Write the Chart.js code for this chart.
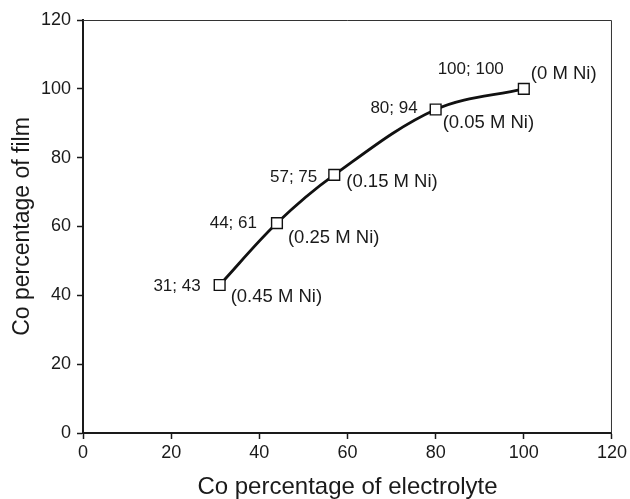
<!DOCTYPE html>
<html>
<head>
<meta charset="utf-8">
<script src="https://cdn.jsdelivr.net/npm/chart.js@4/dist/chart.umd.min.js"></script>
<style>
  html, body { margin: 0; padding: 0; background: #fff; }
  #box { width: 630px; height: 499px; }
</style>
</head>
<body>
<div id="box"><canvas id="myChart"></canvas></div>
<script>
// data
var electrolyteCo = [31, 44, 57, 80, 100];
var filmCo = [43, 61, 75, 94, 100];
var pointLabels = ["31; 43", "44; 61", "57; 75", "80; 94", "100; 100"];
var nickelLabels = ["(0.45 M Ni)", "(0.25 M Ni)", "(0.15 M Ni)", "(0.05 M Ni)", "(0 M Ni)"];
var tickValues = [0, 20, 40, 60, 80, 100, 120];

// where each label sits relative to its marker (pixels)
var coordOffsets = [[-19, 1], [-20, 0], [-17, 2], [-18, -1], [-20, -20]];
var nickelOffsets = [[11, 12], [11, 15], [12, 7], [7, 13], [7, -15]];

var ink = "#1a1a1a";
var fontFamily = "'Liberation Sans', Arial, Helvetica, sans-serif";

var points = electrolyteCo.map(function (x, i) {
  return { x: x, y: filmCo[i] };
});

// thin frame on top and right, like the original box
var framePlugin = {
  id: "frame",
  beforeDatasetsDraw: function (chart) {
    var a = chart.chartArea;
    var ctx = chart.ctx;
    ctx.save();
    ctx.strokeStyle = "#333";
    ctx.lineWidth = 1;
    ctx.beginPath();
    ctx.moveTo(a.left, a.top + 0.5);
    ctx.lineTo(a.right - 0.5, a.top + 0.5);
    ctx.lineTo(a.right - 0.5, a.bottom);
    ctx.stroke();
    ctx.restore();
  },
};

var labelPlugin = {
  id: "pointText",
  afterDatasetsDraw: function (chart) {
    var ctx = chart.ctx;
    var xs = chart.scales.x;
    var ys = chart.scales.y;
    ctx.save();
    ctx.fillStyle = ink;
    ctx.textBaseline = "middle";
    for (var i = 0; i < points.length; i++) {
      var px = xs.getPixelForValue(points[i].x);
      var py = ys.getPixelForValue(points[i].y);
      ctx.font = "17px " + fontFamily;
      ctx.textAlign = "right";
      ctx.fillText(pointLabels[i], px + coordOffsets[i][0], py + coordOffsets[i][1]);
      ctx.font = "18.5px " + fontFamily;
      ctx.textAlign = "left";
      ctx.fillText(nickelLabels[i], px + nickelOffsets[i][0], py + nickelOffsets[i][1]);
    }
    ctx.restore();
  },
};

function axisTicks(scale) {
  scale.ticks = tickValues.map(function (v) {
    return { value: v };
  });
}

var ctx = document.getElementById("myChart").getContext("2d");
var myChart = new Chart(ctx, {
  type: "scatter",
  data: {
    datasets: [
      {
        data: points,
        showLine: true,
        borderColor: "#111",
        borderWidth: 2.8,
        tension: 0.35,
        pointStyle: "rect",
        pointRadius: 7.6,
        pointBorderWidth: 1.4,
        pointBorderColor: "#111",
        pointBackgroundColor: "#fff",
      },
    ],
  },
  options: {
    responsive: true,
    maintainAspectRatio: false,
    animation: false,
    layout: { padding: { top: 20, right: 17, left: 0, bottom: 0 } },
    plugins: {
      legend: { display: false },
      tooltip: { enabled: false },
    },
    scales: {
      x: {
        type: "linear",
        min: 0,
        max: 120,
        afterBuildTicks: axisTicks,
        afterFit: function (scale) {
          scale.height = 66;
        },
        grid: {
          drawOnChartArea: false,
          drawTicks: true,
          tickLength: 6,
          tickWidth: 1.5,
          tickColor: ink,
        },
        border: { color: ink, width: 2 },
        ticks: {
          color: ink,
          padding: 3,
          maxRotation: 0,
          font: { family: fontFamily, size: 18 },
        },
        title: {
          display: true,
          text: "Co percentage of electrolyte",
          color: ink,
          padding: 0,
          font: { family: fontFamily, size: 24, lineHeight: 1 },
        },
      },
      y: {
        type: "linear",
        min: 0,
        max: 120,
        afterBuildTicks: axisTicks,
        afterFit: function (scale) {
          scale.width = 83;
        },
        grid: {
          drawOnChartArea: false,
          drawTicks: true,
          tickLength: 6,
          tickWidth: 1.5,
          tickColor: ink,
        },
        border: { color: ink, width: 2 },
        ticks: {
          color: ink,
          padding: 6,
          font: { family: fontFamily, size: 18 },
        },
        title: {
          display: true,
          text: "Co percentage of film",
          color: ink,
          padding: { top: 11, bottom: 0 },
          font: { family: fontFamily, size: 23, lineHeight: 1 },
        },
      },
    },
  },
  plugins: [framePlugin, labelPlugin],
});
</script>
</body>
</html>
